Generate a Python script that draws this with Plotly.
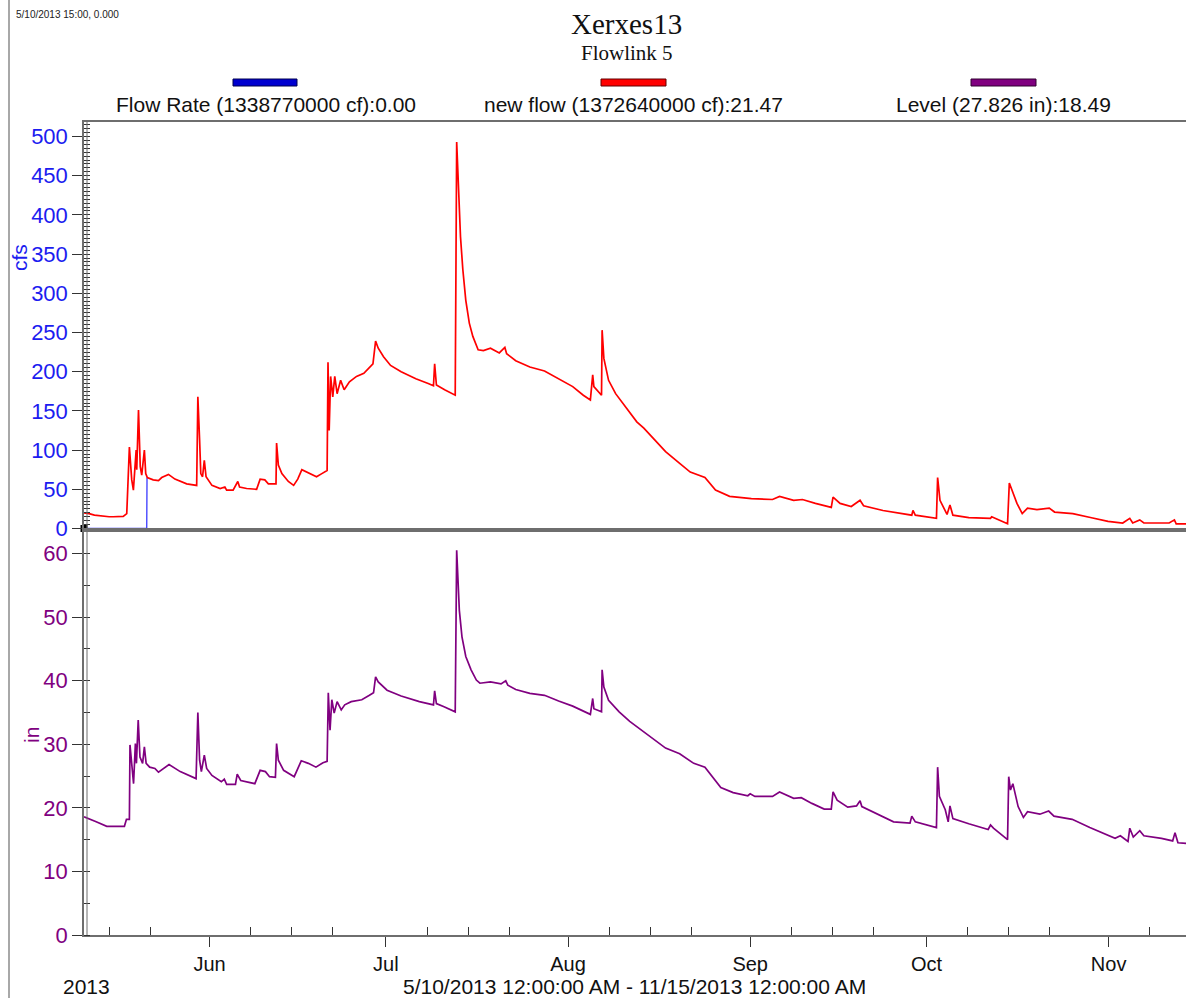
import pandas as pd
import plotly.graph_objects as go
from plotly.subplots import make_subplots

# ---------------- data (days since 2013-05-10 00:00) ----------------
START = pd.Timestamp("2013-05-10 00:00")

rate_days = [0.63, 11.3, 11.35]
rate_cfs = [0, 0, 65]

flow_days = [0.63, 1.5, 2.4, 3.35, 4.9, 5.6, 7.3, 7.9, 8.35, 8.75, 9.03, 9.5, 9.6, 9.9, 10.2, 10.45,
             10.9, 11.13, 11.4, 12.4, 13.3, 13.85, 15.0, 16.1, 18.1, 19.8, 20.0, 20.3, 20.5, 20.8,
             21.1, 21.4, 22.4, 23.8, 24.6, 24.9, 26.0, 26.8, 27.1, 28.3, 30.0, 30.6, 31.4, 32.0,
             33.3, 33.4, 33.7, 34.3, 35.4, 36.3, 37.0, 37.7, 38.5, 40.2, 41.1, 42.0, 42.15, 42.35,
             42.6, 42.96, 43.3, 43.7, 44.3, 44.9, 45.8, 47.0, 48.25, 49.2, 49.8, 50.25, 50.7, 51.6,
             52.8, 54.6, 57.1, 59.2, 60.1, 60.3, 60.6, 62.0, 63.8, 64.05, 64.4, 64.7, 65.1, 65.6,
             66.2, 66.8, 67.7, 68.6, 69.8, 71.3, 72.25, 72.55, 74.1, 76.5, 79.0, 81.4, 83.8, 85.6,
             86.8, 87.2, 87.4, 88.7, 88.8, 89.1, 89.9, 91.1, 92.9, 94.7, 95.9, 99.6, 102.0, 103.8,
             106.3, 108.1, 110.5, 114.2, 117.8, 119.0, 121.4, 122.9, 125.1, 127.8, 128.1, 129.3,
             131.2, 132.7, 133.3, 136.6, 141.5, 141.7, 142.1, 145.7, 145.9, 146.3, 147.5, 148.0,
             148.5, 151.2, 154.9, 155.1, 157.8, 158.1, 158.5, 159.4, 160.3, 161.2, 162.8, 164.9,
             165.8, 168.9, 171.9, 174.9, 177.4, 178.6, 179.1, 180.3, 181.0, 185.3, 186.2, 186.5,
             188.2]
flow_cfs = [20, 19, 17, 16, 15, 15, 15.5, 19, 104, 62, 49, 100, 75, 151, 79, 68,
            100, 70, 65, 62, 61, 65, 69, 63, 57, 55, 168, 113, 70, 66,
            87, 66, 55, 51, 53, 49, 49, 60, 53, 51, 50, 63, 62, 57,
            57, 109, 81, 70, 60, 55, 63, 75, 72, 66, 70, 74, 212, 125,
            194, 168, 194, 172, 189, 177, 187, 194, 198, 206, 210, 239, 230, 219,
            208, 200, 191, 185, 182, 210, 183, 177, 170, 493, 436, 372, 330, 291,
            262, 245, 228, 227, 230, 224, 231, 223, 214, 206, 201, 191, 181, 170,
            164, 196, 181, 170, 253, 217, 189, 172, 154, 136, 128, 98, 83, 72,
            65, 49, 41, 38, 37, 41, 36, 37, 32, 27, 40, 32,
            28, 36, 29, 23, 17, 23, 17, 13, 65, 36, 18, 30,
            17, 14, 13, 15, 6, 58, 50, 32, 19, 26, 24, 26,
            21, 19, 14, 9, 7, 13, 7, 11, 7, 7, 11, 6,
            6]

level_days = [0.63, 0.86, 2.7, 4.5, 7.5, 7.85, 8.35, 8.45, 8.76, 9.06, 9.37, 9.55, 9.85, 10.15,
              10.6, 10.9, 11.2, 11.8, 12.7, 13.3, 15.1, 17.0, 19.7, 20.0, 20.3, 20.6, 21.1, 21.5,
              22.4, 24.0, 24.5, 24.9, 26.4, 26.7, 27.3, 29.7, 30.6, 31.5, 32.2, 33.2, 33.4, 33.7,
              34.6, 36.4, 37.6, 38.8, 40.1, 41.3, 42.0, 42.2, 42.5, 42.8, 43.2, 43.7, 44.4, 45.0,
              46.1, 47.9, 49.2, 49.9, 50.25, 50.7, 52.2, 54.6, 57.7, 60.1, 60.3, 60.6, 61.9, 63.8,
              64.05, 64.5, 64.95, 65.6, 66.5, 67.4, 68.0, 69.8, 71.6, 72.4, 72.75, 74.1, 76.5, 79.0,
              81.4, 83.8, 86.8, 87.2, 87.4, 88.7, 88.8, 89.1, 89.9, 91.7, 93.5, 95.9, 99.6, 102.0,
              104.4, 106.3, 107.5, 109.0, 111.1, 113.6, 114.0, 114.8, 117.8, 119.0, 121.4, 122.7,
              124.5, 126.6, 127.8, 128.1, 128.8, 130.6, 132.1, 132.7, 133.0, 135.4, 138.4, 141.2,
              141.5, 142.1, 145.4, 145.7, 145.9, 146.2, 147.2, 147.7, 148.0, 148.5, 151.2, 154.5,
              154.9, 155.4, 157.8, 158.0, 158.3, 158.7, 159.6, 160.5, 161.2, 163.3, 164.8, 165.7,
              168.8, 171.8, 176.1, 177.0, 178.3, 178.6, 179.2, 180.3, 181.0, 184.0, 185.9, 186.3,
              186.8, 188.2]
level_in = [18.6, 18.5, 17.8, 17.1, 17.1, 18.2, 18.2, 29.9, 26.5, 23.8, 30.1, 27.0, 33.8, 28.0,
            27.0, 29.6, 27.0, 26.4, 26.2, 25.6, 26.8, 25.7, 24.6, 35.0, 27.5, 25.7, 28.3, 26.2,
            25.1, 24.1, 24.5, 23.7, 23.7, 25.3, 24.3, 23.8, 25.9, 25.7, 24.9, 24.8, 30.1, 27.5,
            25.9, 24.9, 27.4, 27.0, 26.4, 27.1, 27.3, 38.1, 32.2, 37.0, 34.9, 36.7, 35.4, 36.2,
            36.7, 37.0, 37.7, 38.1, 40.6, 39.8, 38.5, 37.6, 36.7, 36.2, 38.4, 36.4, 35.9, 35.1,
            60.5, 51.1, 46.9, 43.8, 41.7, 40.1, 39.6, 39.8, 39.5, 40.0, 39.3, 38.6, 38.0, 37.7,
            36.8, 36.0, 34.7, 37.2, 35.6, 35.1, 41.7, 39.0, 36.9, 35.1, 33.6, 32.0, 29.4, 28.5,
            27.0, 26.4, 24.9, 23.2, 22.4, 21.9, 22.2, 21.8, 21.8, 22.5, 21.5, 21.6,
            20.7, 19.8, 19.8, 22.5, 21.2, 20.1, 20.3, 21.1, 20.2, 19.1, 17.8, 17.6,
            18.7, 17.8, 16.9, 16.9, 26.4, 21.8, 19.7, 17.8, 20.3, 18.3, 17.5, 16.6,
            17.3, 16.8, 15.0, 24.9, 22.8, 23.8, 20.2, 18.5, 19.4, 19.0, 19.5, 18.7,
            18.2, 16.9, 15.2, 15.6, 14.7, 16.8, 15.4, 16.4, 15.6, 15.2, 14.8, 16.1,
            14.5, 14.4]

legend_labels = ["Flow Rate (1338770000 cf):0.00",
                 "new flow (1372640000 cf):21.47",
                 "Level (27.826 in):18.49"]

def to_dates(days):
    return [START + pd.Timedelta(days=d) for d in days]

# ---------------- layout constants (screen pixels; body margin removed) ----------------
W, H = 1186, 998
SCR_L, SCR_R, SCR_T, SCR_B = 84, 1186, 122, 935
ML, MR, MT, MB = SCR_L, W - SCR_R, SCR_T, H - SCR_B
PW, PH = SCR_R - SCR_L, SCR_B - SCR_T
SPLIT = (SCR_B - 530) / PH

def px(x):
    return (x - SCR_L) / PW

def py(y):
    return (SCR_B - y) / PH

BLUE = "#1c1cf0"
RED = "#ff0000"
PURPLE = "#800080"
FRAME = "#6e6e6e"
SANS = "Liberation Sans, Arial, sans-serif"
SERIF = "Liberation Serif, Times New Roman, serif"

x0 = START + pd.Timedelta(days=0.625)
x1 = START + pd.Timedelta(days=188.17)

fig = make_subplots(rows=2, cols=1, shared_xaxes=True, vertical_spacing=0,
                    row_heights=[1 - SPLIT, SPLIT])

fig.add_trace(go.Scatter(x=to_dates(rate_days), y=rate_cfs, mode="lines",
                         line=dict(color="#3a3aff", width=1.3), showlegend=False), row=1, col=1)
fig.add_trace(go.Scatter(x=to_dates(flow_days), y=flow_cfs, mode="lines",
                         line=dict(color=RED, width=1.7), showlegend=False), row=1, col=1)
fig.add_trace(go.Scatter(x=[x0], y=[0], mode="markers", cliponaxis=False,
                         marker=dict(symbol="square", size=7, color="black"),
                         showlegend=False), row=1, col=1)
fig.add_trace(go.Scatter(x=to_dates(level_days), y=level_in, mode="lines",
                         line=dict(color=PURPLE, width=1.7), showlegend=False), row=2, col=1)

# minor date ticks on days 8, 15, 22 of each month
minor_vals = []
for m in range(5, 12):
    for d in (8, 15, 22):
        minor_vals.append(pd.Timestamp(2013, m, d))

fig.update_xaxes(range=[x0, x1], showgrid=False, zeroline=False,
                 showline=True, linecolor=FRAME, linewidth=1.5, mirror=True)
fig.update_xaxes(row=1, col=1, ticks="", showticklabels=False)
fig.update_xaxes(row=2, col=1, ticks="outside", ticklen=10, tickcolor="#333333",
                 tickwidth=1, dtick="M1", tick0="2013-06-01", tickformat="%b",
                 tickfont=dict(family=SANS, size=20, color="#111111"),
                 minor=dict(tickmode="array", tickvals=minor_vals, ticks="inside",
                            ticklen=8, tickcolor="#333333", tickwidth=1))

fig.update_yaxes(row=1, col=1, range=[-1.9, 518.5], tickmode="linear", tick0=0, dtick=50,
                 ticks="outside", ticklen=10, tickcolor="#333333", tickwidth=1,
                 showgrid=False, zeroline=False, showline=True, linecolor=FRAME, linewidth=1.5,
                 tickfont=dict(family=SANS, size=22, color=BLUE),
                 minor=dict(dtick=5, ticks="inside", ticklen=6, tickcolor="#333333"))
fig.update_yaxes(row=2, col=1, range=[0, 63.7], tickmode="linear", tick0=0, dtick=10,
                 ticks="outside", ticklen=10, tickcolor="#333333", tickwidth=1,
                 showgrid=False, zeroline=False, showline=True, linecolor=FRAME, linewidth=1.5,
                 tickfont=dict(family=SANS, size=22, color=PURPLE),
                 minor=dict(dtick=5, ticks="inside", ticklen=6, tickcolor="#333333"))

shapes = []
# double axis line on the left
shapes.append(dict(type="line", xref="paper", yref="paper", x0=px(87), x1=px(87), y0=0, y1=1,
                   line=dict(color=FRAME, width=1)))
# outer frame line at far left
shapes.append(dict(type="line", xref="paper", yref="paper", x0=px(9), x1=px(9),
                   y0=py(998), y1=py(0), line=dict(color="#a8a8a8", width=2)))
# legend swatches
for (xa, xb), col, edge in [((233, 297), "#0000d0", "#000050"),
                            ((601, 666), "#ff0000", "#600000"),
                            ((971, 1036), "#800080", "#300030")]:
    shapes.append(dict(type="rect", xref="paper", yref="paper", x0=px(xa), x1=px(xb),
                       y0=py(86), y1=py(79), fillcolor=col, line=dict(color=edge, width=1)))

ann = []
ann.append(dict(text="Xerxes13", x=px(626), y=py(24), xref="paper", yref="paper",
                showarrow=False, xanchor="center", yanchor="middle",
                font=dict(family=SERIF, size=29, color="#111111")))
ann.append(dict(text="Flowlink 5", x=px(627), y=py(53), xref="paper", yref="paper",
                showarrow=False, xanchor="center", yanchor="middle",
                font=dict(family=SERIF, size=21, color="#111111")))
for cx, lab in zip([266, 633, 1003], legend_labels):
    ann.append(dict(text=lab, x=px(cx), y=py(104), xref="paper", yref="paper",
                    showarrow=False, xanchor="center", yanchor="middle",
                    font=dict(family=SANS, size=21, color="#111111")))
ann.append(dict(text="5/10/2013 15:00, 0.000", x=px(14), y=py(14), xref="paper", yref="paper",
                showarrow=False, xanchor="left", yanchor="middle",
                font=dict(family=SANS, size=10, color="#222222")))
ann.append(dict(text="2013", x=px(86), y=py(986), xref="paper", yref="paper",
                showarrow=False, xanchor="center", yanchor="middle",
                font=dict(family=SANS, size=21, color="#111111")))
ann.append(dict(text="5/10/2013 12:00:00 AM - 11/15/2013 12:00:00 AM", x=px(634), y=py(986),
                xref="paper", yref="paper", showarrow=False, xanchor="center", yanchor="middle",
                font=dict(family=SANS, size=21, color="#111111")))
ann.append(dict(text="cfs", x=px(19), y=py(258), xref="paper", yref="paper", textangle=-90,
                showarrow=False, xanchor="center", yanchor="middle",
                font=dict(family=SANS, size=21, color=BLUE)))
ann.append(dict(text="in", x=px(31), y=py(735), xref="paper", yref="paper", textangle=-90,
                showarrow=False, xanchor="center", yanchor="middle",
                font=dict(family=SANS, size=21, color=PURPLE)))

fig.update_layout(width=W, height=H, margin=dict(l=ML, r=MR, t=MT, b=MB),
                  paper_bgcolor="white", plot_bgcolor="white",
                  shapes=shapes, annotations=ann, showlegend=False)

fig.write_html("out.html", config={"displayModeBar": False},
               post_script="document.body.style.margin='0';"
                           "document.body.style.overflow='hidden';")
